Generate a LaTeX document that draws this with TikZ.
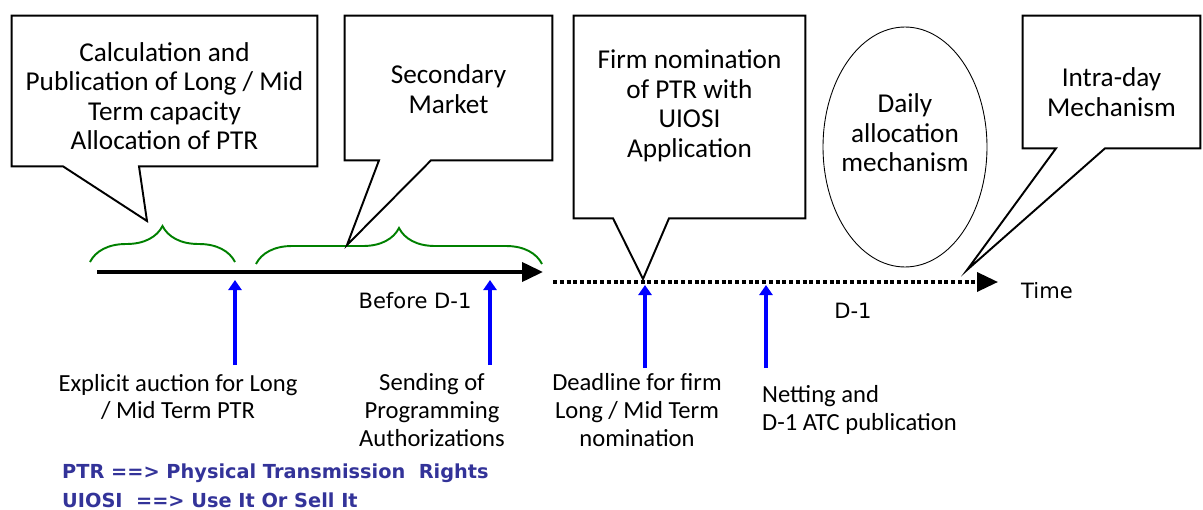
\documentclass[tikz,border=0pt]{standalone}
\usepackage{fontspec}
\setmainfont{Carlito}
\newfontfamily\verdfont{DejaVu Sans}
\usetikzlibrary{shapes.geometric,arrows.meta,decorations.pathreplacing,positioning}
\definecolor{bracegreen}{RGB}{0,128,0}
\definecolor{legendblue}{RGB}{51,51,153}
\definecolor{eventblue}{RGB}{0,0,255}

\tikzset{
  bubble/.style={rectangle,align=center,inner sep=2pt,font=\fontsize{15.5}{16.8}\selectfont},
  bubbleline/.style={draw,line width=1.1pt,fill=white,line join=miter},
  phase/.style={decorate,decoration={brace,amplitude=0.72cm},draw=bracegreen,line width=1.1pt},
  event/.style={draw=eventblue,line width=0.08cm,-{Triangle[length=0.2cm,width=0.26cm]}},
  note/.style={align=center,font=\fontsize{14}{15.8}\selectfont},
  axislabel/.style={font=\verdfont\fontsize{12}{14}\selectfont},
  legend/.style={anchor=west,text=legendblue,font=\verdfont\bfseries\fontsize{11}{13}\selectfont},
}

\begin{document}
\begin{tikzpicture}[x=0.02cm,y=-0.02cm]
\useasboundingbox (0,0) rectangle (1203,510);

% time axis
\coordinate (t0) at (97,272);
\coordinate (t1) at (543,272);
\coordinate (d0) at (553,282);
\coordinate (d1) at (998,282);
\draw[line width=2.2pt,-{Triangle[length=0.42cm,width=0.38cm]}] (t0) -- (t1);
\draw[line width=0.07cm,dash pattern=on 0.08cm off 0.055cm,-{Triangle[length=0.42cm,width=0.38cm]}] (d0) -- (d1);
\node[axislabel] (before) at (415,301) {Before D-1};
\node[axislabel] (dminus) at (853,311) {D-1};
\node[axislabel] (time) at (1047,291) {Time};

% braces
\draw[phase] (90,262) -- (235,262);
\draw[phase] (256,264) -- (542,264);

% callout boxes
\node[bubble,minimum width=6.1cm,minimum height=3cm] (calc) at (164.5,91) {};
\node[bubble,minimum width=4.14cm,minimum height=2.88cm] (second) at (448.5,88) {};
\node[bubble,minimum width=4.62cm,minimum height=4.04cm] (firm) at (689.5,117) {};
\node[bubble,minimum width=3.54cm,minimum height=2.64cm] (intra) at (1111.5,82) {};
\coordinate (calctip) at (147,221);
\coordinate (secondtip) at (347,245);
\coordinate (firmtip) at (643,279);
\coordinate (intratip) at (967,270);
\draw[bubbleline] (calc.south west) |- (calc.north east) |- (calc.south -| 139,0) -- (calctip) -- (calc.south -| 63,0) -- cycle;
\draw[bubbleline] (second.south west) |- (second.north east) |- (second.south -| 431,0) -- (secondtip) -- (second.south -| 379,0) -- cycle;
\draw[bubbleline] (firm.south west) |- (firm.north east) |- (firm.south -| 669,0) -- (firmtip) -- (firm.south -| 613,0) -- cycle;
\draw[bubbleline] (intra.south west) |- (intra.north east) |- (intra.south -| 1105,0) -- (intratip) -- (intra.south -| 1056,0) -- cycle;
\node[bubble] (calctext) at (164.5,96) {Calculation and\\Publication of Long / Mid\\Term capacity\\Allocation of PTR};
\node[bubble] (secondtext) at (448.5,89) {Secondary\\Market};
\node[bubble] (firmtext) at (689.5,106) {Firm nomination\\of PTR with\\UIOSI\\Application};
\node[bubble] (intratext) at (1111.5,92) {Intra-day\\Mechanism};
\node[draw,ellipse,line width=0.5pt,minimum width=3.28cm,minimum height=4.8cm] (daily) at (905,147) {};
\node[bubble] (dailytext) at (905,133) {Daily\\allocation\\mechanism};

% events
\coordinate (e1) at (235,365);
\coordinate (e2) at (490,365);
\coordinate (e3) at (645,368);
\coordinate (e4) at (766,368);
\draw[event] (e1) -- (235,280);
\draw[event] (e2) -- (490,280);
\draw[event] (e3) -- (645,285);
\draw[event] (e4) -- (766,285);
\node[note] (auction) at (178,397) {Explicit auction for Long\\/ Mid Term PTR};
\node[note] (sending) at (432,410) {Sending of\\Programming\\Authorizations};
\node[note] (deadline) at (637,410) {Deadline for firm\\Long / Mid Term\\nomination};
\node[note,align=left,anchor=west] (netting) at (756,410) {Netting and\\D-1 ATC publication};

% legend
\node[legend] (ptr) at (56,473) {PTR ==> Physical Transmission~ Rights};
\node[legend] (uiosi) at (56,500) {UIOSI~ ==> Use It Or Sell It};
\end{tikzpicture}
\end{document}
